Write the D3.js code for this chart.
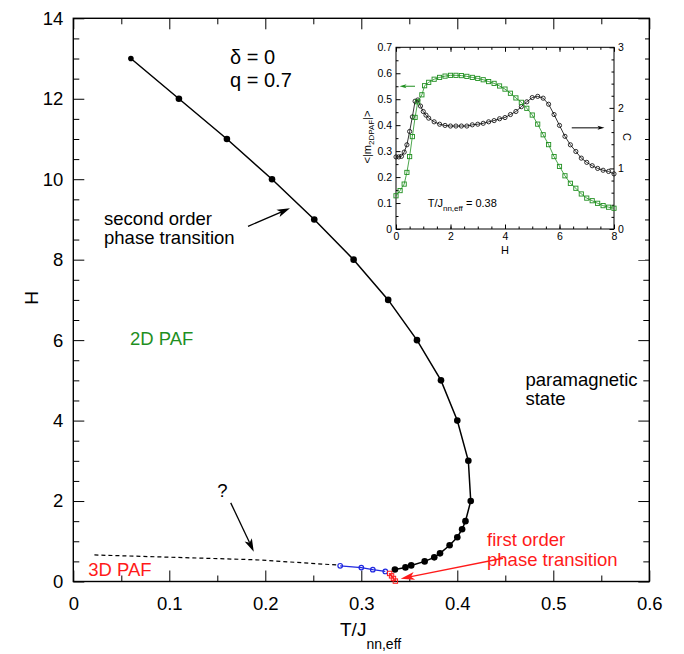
<!DOCTYPE html>
<html lang="en">
<head>
<meta charset="UTF-8">
<title>Phase diagram delta=0, q=0.7</title>
<script src="https://d3js.org/d3.v7.min.js"></script>
<style>
    body { margin: 0; background: #fff; }
    text { font-family: "Liberation Sans", Arial, Helvetica, sans-serif; }
</style>
</head>
<body>
<script>
// second order boundary (filled black dots)
const secondT = [0.060, 0.110, 0.160, 0.207, 0.251, 0.292, 0.328, 0.358, 0.383, 0.400, 0.4115, 0.414,
                 0.4085, 0.405, 0.400, 0.392, 0.382, 0.376, 0.366, 0.352, 0.346, 0.335];
const secondH = [13, 12, 11, 10, 9, 8, 7, 6, 5, 4, 3, 2,
                 1.5, 1.3, 1.1, 0.9, 0.7, 0.6, 0.5, 0.4, 0.35, 0.3];
// blue open circles
const blueT = [0.278, 0.300, 0.312, 0.325];
const blueH = [0.39, 0.345, 0.295, 0.25];
// first order (red open squares)
const firstT = [0.3295, 0.3315, 0.3335, 0.3355];
const firstH = [0.20, 0.14, 0.075, 0.01];
// guessed boundary (dashed)
const dashT = [0.022, 0.19, 0.275];
const dashH = [0.66, 0.54, 0.41];

const xTicks = [0, 0.1, 0.2, 0.3, 0.4, 0.5, 0.6];
const yTicks = [0, 2, 4, 6, 8, 10, 12, 14];

// inset: T/J = 0.38
const mH = [0, 0.15, 0.3, 0.4, 0.5, 0.6, 0.7, 0.8, 0.95, 1.05,
            1.2, 1.4, 1.6, 1.8, 2.0, 2.2, 2.4, 2.6, 2.8, 3.0, 3.2, 3.4, 3.6, 3.8, 4.0, 4.2, 4.4, 4.6,
            4.8, 5.0, 5.2, 5.4, 5.6, 5.8, 6.0, 6.2, 6.4, 6.6, 6.8, 7.0, 7.2, 7.4, 7.6, 7.8, 8.0];
const mVal = [0.128, 0.148, 0.173, 0.218, 0.279, 0.356, 0.430, 0.490, 0.517, 0.552,
              0.565, 0.577, 0.584, 0.589, 0.592, 0.592, 0.591, 0.588, 0.584, 0.580, 0.575, 0.568, 0.561, 0.551, 0.539, 0.523, 0.505, 0.488,
              0.465, 0.439, 0.404, 0.363, 0.325, 0.279, 0.241, 0.205, 0.176, 0.157, 0.135, 0.119, 0.109, 0.099, 0.090, 0.084, 0.080];
const cH = [0, 0.1, 0.2, 0.3, 0.4, 0.5, 0.6, 0.7, 0.8, 0.9, 1.0, 1.1,
            1.2, 1.4, 1.6, 1.8, 2.0, 2.2, 2.4, 2.6, 2.8, 3.0, 3.2, 3.4, 3.6, 3.8, 4.0, 4.2, 4.4, 4.6,
            4.8, 5.0, 5.2, 5.4, 5.6, 5.8, 6.0, 6.2, 6.4, 6.6, 6.8, 7.0, 7.2, 7.4, 7.6, 7.8, 8.0];
const cVal = [1.19, 1.19, 1.20, 1.27, 1.39, 1.61, 1.85, 2.11, 2.13, 2.03, 1.94, 1.88,
              1.83, 1.77, 1.73, 1.71, 1.70, 1.70, 1.70, 1.70, 1.72, 1.73, 1.745, 1.77, 1.79, 1.82, 1.84, 1.89, 1.94, 2.02,
              2.10, 2.17, 2.19, 2.16, 2.06, 1.89, 1.71, 1.53, 1.39, 1.28, 1.17, 1.10, 1.045, 1.00, 0.97, 0.95, 0.91];

const inXTicks = [0, 2, 4, 6, 8];
const inMTicks = [0, 0.1, 0.2, 0.3, 0.4, 0.5, 0.6, 0.7];
const inCTicks = [0, 1, 2, 3];

const green = "#1f8f1f", red = "#ff1a1a", blue = "#2028e0";
const width = 684, height = 654;

const svg = d3.select("body").append("svg")
    .attr("width", width)
    .attr("height", height);

const x = d3.scaleLinear().domain([0, 0.6]).range([73.3, 649.3]);
const y = d3.scaleLinear().domain([0, 14]).range([581.5, 18.3]);

const zip = (a, b) => a.map((v, i) => [v, b[i]]);

// axes helper: inward ticks, no domain path
function ax(g, axis, fs) {
    g.call(axis);
    g.select(".domain").remove();
    g.attr("font-size", fs).attr("font-family", null);
    g.selectAll("line").attr("stroke", "#000");
    g.selectAll("text").attr("fill", "#000");
    return g;
}

// main axes
const fmt = d => d === 0 ? "0" : d3.format(".1f")(d);
ax(svg.append("g").attr("transform", `translate(0,${y(0)})`),
    d3.axisBottom(x).tickValues(xTicks).tickSize(-11).tickPadding(15).tickFormat(fmt), 18.5);
ax(svg.append("g").attr("transform", `translate(0,${y(0)})`),
    d3.axisBottom(x).tickValues(d3.range(0.05, 0.6, 0.1)).tickSize(-6).tickFormat(""), 18.5);
ax(svg.append("g").attr("transform", `translate(0,${y(14)})`),
    d3.axisTop(x).tickValues(xTicks).tickSize(-11).tickFormat(""), 18.5);
ax(svg.append("g").attr("transform", `translate(0,${y(14)})`),
    d3.axisTop(x).tickValues(d3.range(0.05, 0.6, 0.1)).tickSize(-6).tickFormat(""), 18.5);
const yMinor = d3.range(0.5, 14, 0.5).filter(v => v % 2 !== 0);
ax(svg.append("g").attr("transform", `translate(${x(0)},0)`),
    d3.axisLeft(y).tickValues(yTicks).tickSize(-11).tickPadding(10), 18.5);
ax(svg.append("g").attr("transform", `translate(${x(0)},0)`),
    d3.axisLeft(y).tickValues(yMinor).tickSize(-6).tickFormat(""), 18.5);
ax(svg.append("g").attr("transform", `translate(${x(0.6)},0)`),
    d3.axisRight(y).tickValues(yTicks).tickSize(-11).tickFormat(""), 18.5);
ax(svg.append("g").attr("transform", `translate(${x(0.6)},0)`),
    d3.axisRight(y).tickValues(yMinor).tickSize(-6).tickFormat(""), 18.5);

svg.append("rect")
    .attr("x", x(0)).attr("y", y(14))
    .attr("width", x(0.6) - x(0)).attr("height", y(0) - y(14))
    .attr("fill", "none").attr("stroke", "#000").attr("stroke-width", 1.4);

// axis titles
svg.append("text").attr("transform", "translate(38,298) rotate(-90)")
    .attr("text-anchor", "middle").attr("font-size", 19).text("H");
const xt = svg.append("text").attr("x", 340).attr("y", 636).attr("font-size", 19);
xt.append("tspan").text("T/J");
xt.append("tspan").attr("font-size", 14).attr("dy", 13).text("nn,eff");

// lines
const line = d3.line().x(d => x(d[0])).y(d => y(d[1]));

svg.append("path").datum(zip(dashT, dashH))
    .attr("d", line).attr("fill", "none").attr("stroke", "#000")
    .attr("stroke-width", 1.2).attr("stroke-dasharray", "4,3");

svg.append("path").datum(zip(secondT, secondH))
    .attr("d", line).attr("fill", "none").attr("stroke", "#000").attr("stroke-width", 1.5);
svg.append("g").selectAll("circle").data(zip(secondT, secondH)).join("circle")
    .attr("cx", d => x(d[0])).attr("cy", d => y(d[1]))
    .attr("r", (d, i) => i === 0 ? 2.8 : 3.3).attr("fill", "#000");

svg.append("path").datum(zip(blueT, blueH))
    .attr("d", line).attr("fill", "none").attr("stroke", blue).attr("stroke-width", 1.3);
svg.append("g").selectAll("circle").data(zip(blueT, blueH)).join("circle")
    .attr("cx", d => x(d[0])).attr("cy", d => y(d[1])).attr("r", 2.3)
    .attr("fill", "none").attr("stroke", blue).attr("stroke-width", 1.2);

svg.append("path").datum(zip(firstT, firstH))
    .attr("d", line).attr("fill", "none").attr("stroke", red).attr("stroke-width", 1.2);
svg.append("g").selectAll("rect").data(zip(firstT, firstH)).join("rect")
    .attr("x", d => x(d[0]) - 2.2).attr("y", d => y(d[1]) - 2.2)
    .attr("width", 4.4).attr("height", 4.4)
    .attr("fill", "none").attr("stroke", red).attr("stroke-width", 1);

// arrows
function arrow(g, x1, y1, x2, y2, color, len, wid, sw) {
    const a = Math.atan2(y2 - y1, x2 - x1);
    const bx = x2 - len * Math.cos(a), by = y2 - len * Math.sin(a);
    const nx = -Math.sin(a) * wid / 2, ny = Math.cos(a) * wid / 2;
    const mx = x2 - len * 0.75 * Math.cos(a), my = y2 - len * 0.75 * Math.sin(a);
    g.append("line").attr("x1", x1).attr("y1", y1).attr("x2", mx).attr("y2", my)
        .attr("stroke", color).attr("stroke-width", sw);
    g.append("path")
        .attr("d", `M${x2},${y2}L${bx + nx},${by + ny}L${mx},${my}L${bx - nx},${by - ny}Z`)
        .attr("fill", color);
}
arrow(svg, x(0.182), y(8.83), x(0.2257), y(9.28), "#000", 13, 8, 1.3);
arrow(svg, x(0.164), y(1.955), x(0.188), y(0.742), "#000", 13, 8, 1.3);
arrow(svg, x(0.4476), y(0.578), x(0.341), y(0.07), red, 14, 8, 1.3);

// annotations
function label(tx, ty, lines, color, fs, dy) {
    const t = svg.append("text").attr("x", x(tx)).attr("y", y(ty))
        .attr("font-size", fs).attr("fill", color);
    lines.forEach((s, i) => t.append("tspan").attr("x", x(tx)).attr("dy", i === 0 ? 0 : dy).text(s));
}
label(0.1633, 12.86, ["δ = 0"], "#000", 20, 0);
label(0.1633, 12.29, ["q = 0.7"], "#000", 20, 0);
label(0.032, 8.87, ["second order", "phase transition"], "#000", 18.5, 19.5);
label(0.059, 5.89, ["2D PAF"], green, 18.5, 0);
label(0.471, 4.87, ["paramagnetic", "state"], "#000", 18.5, 19);
label(0.150, 2.1, ["?"], "#000", 18.5, 0);
label(0.0156, 0.145, ["3D PAF"], red, 18.5, 0);
label(0.431, 0.88, ["first order", "phase transition"], red, 18.5, 19.5);

// ---------- inset ----------
const ix = d3.scaleLinear().domain([0, 8]).range([396, 614]);
const iyM = d3.scaleLinear().domain([0, 0.7]).range([229, 47.3]);
const iyC = d3.scaleLinear().domain([0, 3]).range([229, 47.3]);
const ins = svg.append("g");

ins.append("rect").attr("x", 359).attr("y", 38).attr("width", 286).attr("height", 222).attr("fill", "#fff");

const ifs = 10.5;
ax(ins.append("g").attr("transform", `translate(0,${iyM(0)})`),
    d3.axisBottom(ix).tickValues(inXTicks).tickSize(-4.5).tickPadding(4).tickFormat(d3.format("d")), ifs);
ax(ins.append("g").attr("transform", `translate(0,${iyM(0)})`),
    d3.axisBottom(ix).tickValues(d3.range(0.5, 8, 0.5)).tickSize(-2.5).tickFormat(""), ifs);
ax(ins.append("g").attr("transform", `translate(0,${iyM(0.7)})`),
    d3.axisTop(ix).tickValues(inXTicks).tickSize(-4.5).tickFormat(""), ifs);
ax(ins.append("g").attr("transform", `translate(0,${iyM(0.7)})`),
    d3.axisTop(ix).tickValues(d3.range(0.5, 8, 0.5)).tickSize(-2.5).tickFormat(""), ifs);
ax(ins.append("g").attr("transform", `translate(${ix(0)},0)`),
    d3.axisLeft(iyM).tickValues(inMTicks).tickSize(-4.5).tickPadding(4)
        .tickFormat(d => d === 0 ? "0" : d3.format(".1f")(d)), ifs);
ax(ins.append("g").attr("transform", `translate(${ix(0)},0)`),
    d3.axisLeft(iyM).tickValues(d3.range(0.05, 0.7, 0.1)).tickSize(-2.5).tickFormat(""), ifs);
ax(ins.append("g").attr("transform", `translate(${ix(8)},0)`),
    d3.axisRight(iyC).tickValues(inCTicks).tickSize(-4.5).tickPadding(4).tickFormat(d3.format("d")), ifs);
ax(ins.append("g").attr("transform", `translate(${ix(8)},0)`),
    d3.axisRight(iyC).tickValues(d3.range(0.2, 3, 0.2).filter(v => Math.abs(v - Math.round(v)) > 0.01))
        .tickSize(-2.5).tickFormat(""), ifs);

ins.append("rect")
    .attr("x", ix(0)).attr("y", iyM(0.7))
    .attr("width", ix(8) - ix(0)).attr("height", iyM(0) - iyM(0.7))
    .attr("fill", "none").attr("stroke", "#000").attr("stroke-width", 1);

ins.append("text").attr("x", ix(4)).attr("y", 254).attr("text-anchor", "middle")
    .attr("font-size", 11).text("H");
ins.append("text").attr("transform", `translate(623,137) rotate(90)`)
    .attr("text-anchor", "middle").attr("font-size", 11).text("C");
const ml = ins.append("text").attr("transform", `translate(371,137) rotate(-90)`)
    .attr("text-anchor", "middle").attr("font-size", 11);
ml.append("tspan").text("<|m");
ml.append("tspan").attr("font-size", 8).attr("dy", 3).text("2DPAF");
ml.append("tspan").attr("dy", -3).text("|>");

const it = ins.append("text").attr("x", 427.7).attr("y", 206.7).attr("font-size", 11);
it.append("tspan").text("T/J");
it.append("tspan").attr("font-size", 8).attr("dy", 4).text("nn,eff");
it.append("tspan").attr("dy", -4).text(" = 0.38");

const lineM = d3.line().x(d => ix(d[0])).y(d => iyM(d[1]));
const lineC = d3.line().x(d => ix(d[0])).y(d => iyC(d[1]));

ins.append("path").datum(zip(cH, cVal)).attr("d", lineC)
    .attr("fill", "none").attr("stroke", "#000").attr("stroke-width", 0.8);
ins.append("g").selectAll("circle").data(zip(cH, cVal)).join("circle")
    .attr("cx", d => ix(d[0])).attr("cy", d => iyC(d[1])).attr("r", 2.1)
    .attr("fill", "none").attr("stroke", "#000").attr("stroke-width", 0.8);

ins.append("path").datum(zip(mH, mVal)).attr("d", lineM)
    .attr("fill", "none").attr("stroke", green).attr("stroke-width", 0.8);
ins.append("g").selectAll("rect").data(zip(mH, mVal)).join("rect")
    .attr("x", d => ix(d[0]) - 2.1).attr("y", d => iyM(d[1]) - 2.1)
    .attr("width", 4.2).attr("height", 4.2)
    .attr("fill", "none").attr("stroke", green).attr("stroke-width", 0.9);

arrow(ins, 415, iyM(0.55), 399.5, iyM(0.55), green, 7, 4, 1);
arrow(ins, ix(6.45), iyC(1.67), ix(7.65), iyC(1.67), "#000", 7, 4, 1);
</script>
</body>
</html>
